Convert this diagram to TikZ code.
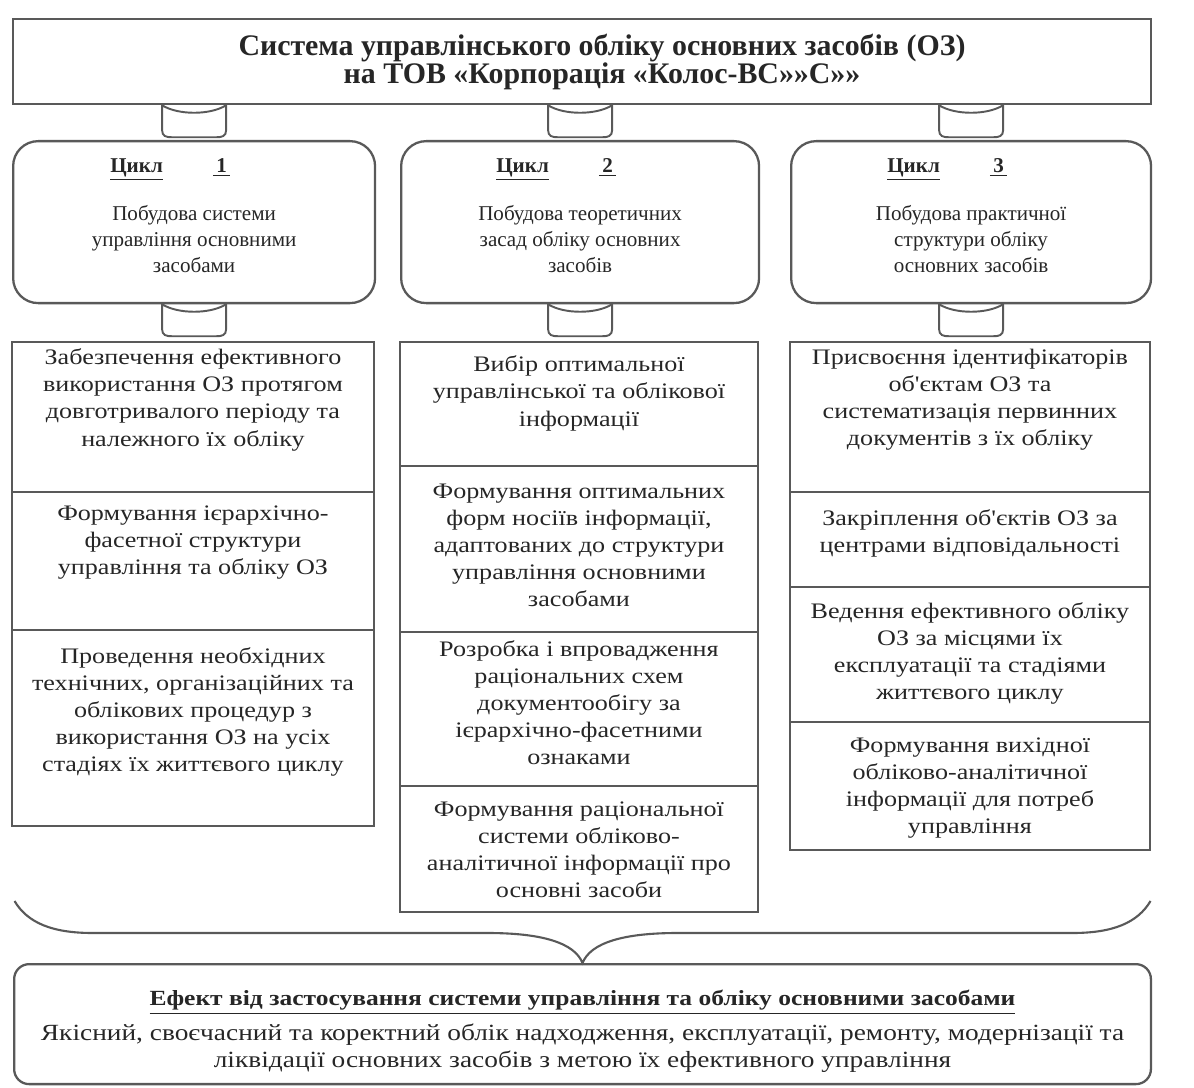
\documentclass[tikz,border=0pt]{standalone}
\usepackage{fontspec}
\setmainfont{Liberation Serif}
\newfontfamily\widefont[FakeStretch=1.18]{Liberation Serif}
\usetikzlibrary{positioning}

% top-aligned text in a box of fixed size
\newcommand{\celltext}[4][6pt]{\parbox[c][#3][t]{#2}{\centering\vspace*{#1}#4}}
% joining piece between two levels
\newcommand{\linkcup}[1]{\draw[cup, shift={(#1)}] (-32,0) .. controls (-16,10) and (16,10) .. (32,0) -- (32,25) .. controls (32,31) and (28,32) .. (22,32) -- (-22,32) .. controls (-28,32) and (-32,31) .. (-32,25) -- cycle;}

\begin{document}
\begin{tikzpicture}[
        x=0.02cm, y=-0.02cm,
        every node/.style={text=black!85},
        line/.style={draw=black!65, line width=1.3pt},
        topbox/.style={line, minimum width=22.76cm, minimum height=1.7cm, anchor=north west, align=center, font=\fontsize{17}{16}\selectfont\bfseries},
        cyclebox/.style={line, rounded corners=0.5cm, inner sep=0pt, anchor=north west, font=\fontsize{12}{15}\selectfont},
        cell/.style={line, inner sep=0pt, outer sep=0pt, font=\widefont\fontsize{12.6}{15.4}\selectfont},
        effbox/.style={line, rounded corners=0.3cm, inner sep=0pt, anchor=north west, font=\widefont\fontsize{13.2}{15.4}\selectfont},
        cup/.style={draw=black!65, line width=1.1pt},
        brace/.style={draw=black!65, line width=1.2pt}
    ]
    \useasboundingbox (0,0) rectangle (1194,1088);
    % Nodes
    \node[topbox] (sys) at (12,18) {\hspace*{0.8cm}Система управлінського обліку основних засобів (ОЗ)\\ \hspace*{0.8cm}на ТОВ «Корпорація «Колос-ВС»»С»»};

    \node[cyclebox] (c1) at (12,140) {\celltext[10pt]{7.24cm}{3.24cm}{\hspace*{-0.95cm}\underline{\textbf{Цикл}}\hspace{1cm}\underline{\textbf{\,1\,}}\\[12pt] Побудова системи\\ управління основними\\ засобами}};
    \node[cyclebox] (c2) at (400,140) {\celltext[10pt]{7.16cm}{3.24cm}{\hspace*{-0.95cm}\underline{\textbf{Цикл}}\hspace{1cm}\underline{\textbf{\,2\,}}\\[12pt] Побудова теоретичних\\ засад обліку основних\\ засобів}};
    \node[cyclebox] (c3) at (790,140) {\celltext[10pt]{7.2cm}{3.24cm}{\hspace*{-0.95cm}\underline{\textbf{Цикл}}\hspace{1cm}\underline{\textbf{\,3\,}}\\[12pt] Побудова практичної\\ структури обліку\\ основних засобів}};

    \node[cell, anchor=north west] (k1a) at (12,342) {\celltext[4pt]{7.24cm}{3cm}{Забезпечення ефективного\\ використання ОЗ протягом\\ довготривалого періоду та\\ належного їх обліку}};
    \node[cell, below=0pt of k1a] (k1b) {\celltext[8pt]{7.24cm}{2.76cm}{Формування ієрархічно-\\ фасетної структури\\ управління та обліку ОЗ}};
    \node[cell, below=0pt of k1b] (k1c) {\celltext[10pt]{7.24cm}{3.92cm}{Проведення необхідних\\ технічних, організаційних та\\ облікових процедур з\\ використання ОЗ на усіх\\ стадіях їх життєвого циклу}};

    \node[cell, anchor=north west] (k2a) at (400,342) {\celltext[8pt]{7.16cm}{2.48cm}{Вибір оптимальної\\ управлінської та облікової\\ інформації}};
    \node[cell, below=0pt of k2a] (k2b) {\celltext[10pt]{7.16cm}{3.32cm}{Формування оптимальних\\ форм носіїв інформації,\\ адаптованих до структури\\ управління основними\\ засобами}};
    \node[cell, below=0pt of k2b] (k2c) {\celltext[5pt]{7.16cm}{3.08cm}{Розробка і впровадження\\ раціональних схем\\ документообігу за\\ ієрархічно-фасетними\\ ознаками}};
    \node[cell, below=0pt of k2c] (k2d) {\celltext[9pt]{7.16cm}{2.52cm}{Формування раціональної\\ системи обліково-\\ аналітичної інформації про\\ основні засоби}};

    \node[cell, anchor=north west] (k3a) at (790,342) {\celltext[4pt]{7.2cm}{3cm}{Присвоєння ідентифікаторів\\ об'єктам ОЗ та\\ систематизація первинних\\ документів з їх обліку}};
    \node[cell, below=0pt of k3a] (k3b) {\celltext[10pt]{7.2cm}{1.9cm}{Закріплення об'єктів ОЗ за\\ центрами відповідальності}};
    \node[cell, below=0pt of k3b] (k3c) {\celltext[9pt]{7.2cm}{2.7cm}{Ведення ефективного обліку\\ ОЗ за місцями їх\\ експлуатації та стадіями\\ життєвого циклу}};
    \node[cell, below=0pt of k3c] (k3d) {\celltext[9pt]{7.2cm}{2.56cm}{Формування вихідної\\ обліково-аналітичної\\ інформації для потреб\\ управління}};

    \node[effbox] (eff) at (13,963) {\celltext[15pt]{22.74cm}{2.4cm}{{\fontsize{12.3}{15}\selectfont\bfseries\underline{Ефект від застосування системи управління та обліку основними засобами}}\\[4pt] Якісний, своєчасний та коректний облік надходження, експлуатації, ремонту, модернізації та\\ ліквідації основних засобів з метою їх ефективного управління}};

    % Links
    \linkcup{c1.north |- sys.south}
    \linkcup{c2.north |- sys.south}
    \linkcup{c3.north |- sys.south}
    \linkcup{c1.south}
    \linkcup{c2.south}
    \linkcup{c3.south}
    \draw[brace, shift={(eff.north)}] (-568,-62) .. controls (-555,-40) and (-530,-30) .. (-490,-30) -- (-95,-30) .. controls (-40,-30) and (-8,-20) .. (0,0) .. controls (8,-20) and (40,-30) .. (95,-30) -- (490,-30) .. controls (530,-30) and (555,-40) .. (568,-62);
\end{tikzpicture}
\end{document}
